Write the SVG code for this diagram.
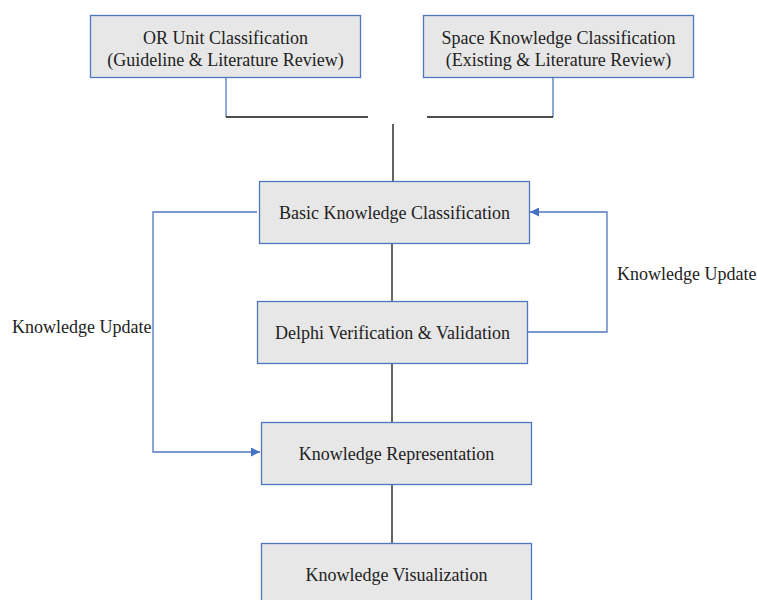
<svg xmlns="http://www.w3.org/2000/svg" width="757" height="600" viewBox="0 0 757 600">
  <defs>
    <marker id="arrow" viewBox="0 0 10 10" refX="10" refY="5" markerWidth="9" markerHeight="9" markerUnits="userSpaceOnUse" orient="auto">
      <path d="M0,0 L10,5 L0,10 z" fill="#4472c4"/>
    </marker>
    <style>
      .box { fill: #e7e7e7; stroke: #4f77c0; stroke-width: 1.3; }
      .lbl { font-family: "Liberation Serif", "Times New Roman", serif; font-size: 18px; fill: #222; text-anchor: middle; }
      .side { font-family: "Liberation Serif", "Times New Roman", serif; font-size: 18px; fill: #222; }
      .dark { fill: none; stroke: #111; stroke-width: 1.3; }
      .blue { fill: none; stroke: #4f77c0; stroke-width: 1.3; }
    </style>
  </defs>
  <rect width="757" height="600" fill="#fff"/>

  <g id="connectors">
    <!-- feeds from the two top classifications -->
    <path class="blue" d="M226,78 V117"/>
    <path class="dark" d="M226,117 H368"/>
    <path class="blue" d="M553,78 V117"/>
    <path class="dark" d="M427,117 H553"/>
    <!-- main vertical spine -->
    <path class="dark" d="M393,124 V181"/>
    <path class="dark" d="M392,243 V301"/>
    <path class="dark" d="M392,363 V422"/>
    <path class="dark" d="M392,484 V543"/>
    <!-- feedback loops -->
    <path class="blue" d="M257,212 H153 V452 H260" marker-end="url(#arrow)"/>
    <path class="blue" d="M527,332 H607 V212 H530" marker-end="url(#arrow)"/>
  </g>

  <g id="or-unit">
    <rect class="box" x="90.5" y="15.5" width="270" height="62"/>
    <text class="lbl" x="225.5" y="43.5">OR Unit Classification</text>
    <text class="lbl" x="225.5" y="65.5">(Guideline &amp; Literature Review)</text>
  </g>

  <g id="space-knowledge">
    <rect class="box" x="423.5" y="15.5" width="270" height="62"/>
    <text class="lbl" x="558.5" y="43.5">Space Knowledge Classification</text>
    <text class="lbl" x="558.5" y="65.5">(Existing &amp; Literature Review)</text>
  </g>

  <g id="basic-knowledge">
    <rect class="box" x="259.5" y="181.5" width="270" height="62"/>
    <text class="lbl" x="394.5" y="219">Basic Knowledge Classification</text>
  </g>

  <g id="delphi">
    <rect class="box" x="257.5" y="301.5" width="270" height="62"/>
    <text class="lbl" x="392.5" y="339">Delphi Verification &amp; Validation</text>
  </g>

  <g id="representation">
    <rect class="box" x="261.5" y="422.5" width="270" height="62"/>
    <text class="lbl" x="396.5" y="460">Knowledge Representation</text>
  </g>

  <g id="visualization">
    <rect class="box" x="261.5" y="543.5" width="270" height="62"/>
    <text class="lbl" x="396.5" y="581">Knowledge Visualization</text>
  </g>

  <g id="labels">
    <text class="side" x="12" y="333">Knowledge Update</text>
    <text class="side" x="617" y="280">Knowledge Update</text>
  </g>
</svg>
